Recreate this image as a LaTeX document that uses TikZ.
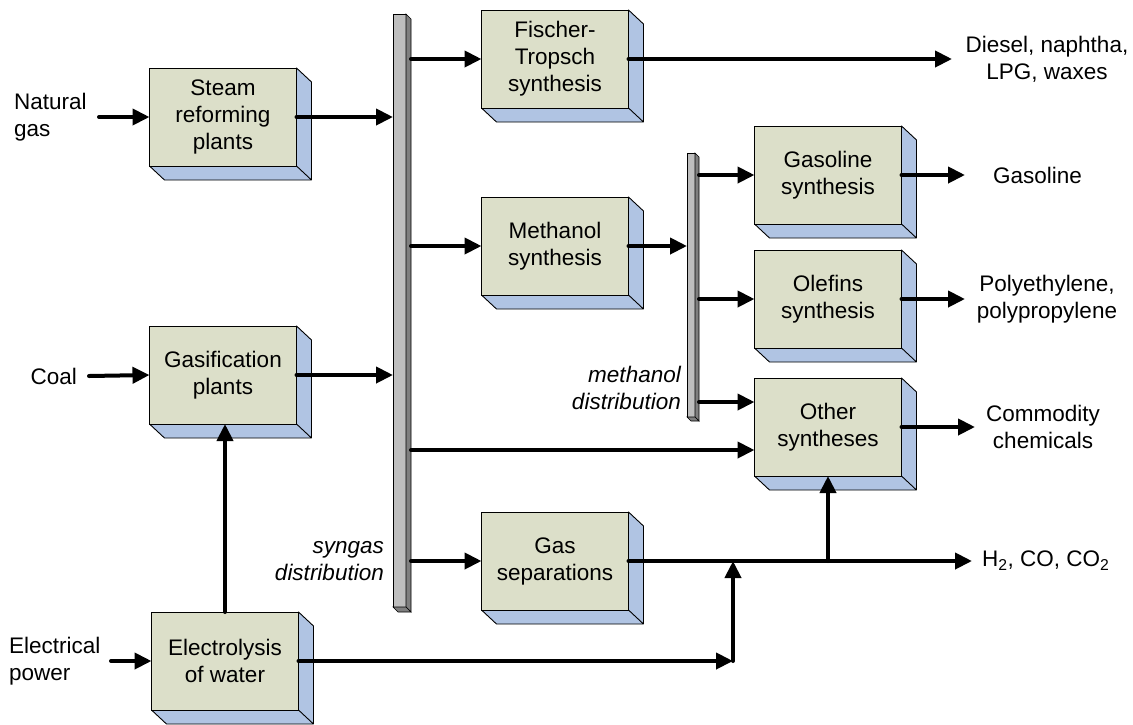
\documentclass[tikz,border=0pt]{standalone}
\usepackage{fontspec}
\setmainfont{Liberation Sans}
\usetikzlibrary{arrows.meta,calc}
\definecolor{frontc}{HTML}{DCDFC9}
\definecolor{depthc}{HTML}{B0C4E3}
\definecolor{barf}{HTML}{BEBEBE}
\definecolor{bars}{HTML}{7F7F7F}
\tikzset{
  pbox/.style={draw=black, line width=0.9pt, fill=frontc, minimum width=147pt, minimum height=98pt,
    inner sep=0pt, outer sep=0pt, align=center, font=\fontsize{22.5}{27}\selectfont},
  depthface/.style={fill=depthc, draw=black, line width=0.9pt, line join=round},
  barface/.style={draw=black, line width=0.6pt, fill=barf, inner sep=0pt, outer sep=0pt},
  barside/.style={draw=black, line width=0.6pt, fill=bars},
  arr/.style={line width=4pt, -{Triangle[length=17pt,width=16pt]}, line cap=round},
  lbl/.style={font=\fontsize{22.5}{27}\selectfont, inner sep=0pt},
  ilbl/.style={font=\fontsize{22.5}{27}\selectfont\itshape, inner sep=0pt, align=right},
}
\newcommand\pb[4]{%
  \filldraw[depthface, shift={(#2,#3)}] (73.5,-49) -- (88.5,-35) -- (88.5,63) -- (-58.5,63) -- (-73.5,49) -- (73.5,49) -- cycle (73.5,49) -- (88.5,63);
  \node[pbox] (#1) at (#2,#3) {#4};}
\begin{document}
\begin{tikzpicture}[x=1pt,y=-1pt]
\useasboundingbox (0,0) rectangle (1133,724);

% process boxes
\pb{steam}{223}{117}{Steam\\reforming\\plants}
\pb{gas}{223}{375}{Gasification\\plants}
\pb{elec}{225}{661}{Electrolysis\\of water}
\pb{ft}{555}{59}{Fischer-\\Tropsch\\synthesis}
\pb{meth}{555}{246}{Methanol\\synthesis}
\pb{gsep}{555}{561}{Gas\\separations}
\pb{gsl}{828}{175}{Gasoline\\synthesis}
\pb{ole}{828}{299}{Olefins\\synthesis}
\pb{oth}{828}{427}{Other\\syntheses}

% syngas distribution bar
\node[barface, minimum width=13pt, minimum height=593pt] (syn) at (399.5,310.5) {};
\filldraw[barside] (syn.north east) -- ++(5,5) -- ($(syn.south east)+(5,5)$) -- (syn.south east) -- cycle;
\filldraw[barside] (syn.south west) -- ++(5,5) -- ($(syn.south east)+(5,5)$) -- (syn.south east) -- cycle;
\coordinate (synr) at ($(syn.east)+(5,0)$);

% methanol distribution bar
\node[barface, minimum width=8pt, minimum height=264pt] (mb) at (691,285) {};
\filldraw[barside] (mb.north east) -- ++(4,4) -- ($(mb.south east)+(4,4)$) -- (mb.south east) -- cycle;
\filldraw[barside] (mb.south west) -- ++(4,4) -- ($(mb.south east)+(4,4)$) -- (mb.south east) -- cycle;
\coordinate (mbr) at ($(mb.east)+(4,0)$);

% labels
\node[lbl, anchor=west, align=left] (ng) at (14,117) {Natural\\gas};
\node[lbl, anchor=east] (coal) at (77,376) {Coal};
\node[lbl, anchor=west, align=left] (pw) at (9,661) {Electrical\\power};
\node[lbl, align=center] (dsl) at (1047,59) {Diesel, naphtha,\\LPG, waxes};
\node[lbl, anchor=west] (gline) at (993,175) {Gasoline};
\node[lbl, align=center] (poly) at (1047,299) {Polyethylene,\\polypropylene};
\node[lbl, align=center] (comm) at (1043,427) {Commodity\\chemicals};
\node[lbl, anchor=west] (h2) at (982,561) {H\textsubscript{2}, CO, CO\textsubscript{2}};
\node[ilbl, anchor=east] (sd) at (384,561) {syngas\\distribution};
\node[ilbl, anchor=east] (md) at (681,388) {methanol\\distribution};

% coordinates
\coordinate (ngs) at (99,117);
\coordinate (coals) at (89,376);
\coordinate (pws) at (111,661);
\coordinate (dslt) at (952,59);
\coordinate (gslt) at (965,175);
\coordinate (olet) at (965,299);
\coordinate (otht) at (975,427);
\coordinate (h2t) at (972,561);
\coordinate (o1) at ($(oth.west)+(0,-25)$);
\coordinate (o2) at ($(oth.west)+(0,23)$);
\coordinate (j1) at (733,661);
\coordinate (j2) at (733,561);
\coordinate (j3) at (oth.south |- gsep.east);

% inputs
\draw[arr] (ngs) -- (steam.west);
\draw[arr] (coals) -- (gas.west);
\draw[arr] (pws) -- (elec.west);
\draw[arr] (steam.east) -- (syn.west |- steam.east);
\draw[arr] (gas.east) -- (syn.west |- gas.east);
\draw[arr] (elec.north) -- (elec.north |- gas.south);
\draw[arr] (elec.east) -- (j1);
\draw[arr] (j1) -- (j2);

% syngas distribution
\draw[arr] (synr |- ft.west) -- (ft.west);
\draw[arr] (synr |- meth.west) -- (meth.west);
\draw[arr] (synr |- o2) -- (o2);
\draw[arr] (synr |- gsep.west) -- (gsep.west);

% methanol
\draw[arr] (meth.east) -- (mb.west |- meth.east);
\draw[arr] (mbr |- gsl.west) -- (gsl.west);
\draw[arr] (mbr |- ole.west) -- (ole.west);
\draw[arr] (mbr |- o1) -- (o1);

% outputs
\draw[arr] (ft.east) -- (dslt);
\draw[arr] (gsl.east) -- (gslt);
\draw[arr] (ole.east) -- (olet);
\draw[arr] (oth.east) -- (otht);
\draw[arr] (gsep.east) -- (h2t);
\draw[arr] (j3) -- (oth.south);
\end{tikzpicture}
\end{document}
